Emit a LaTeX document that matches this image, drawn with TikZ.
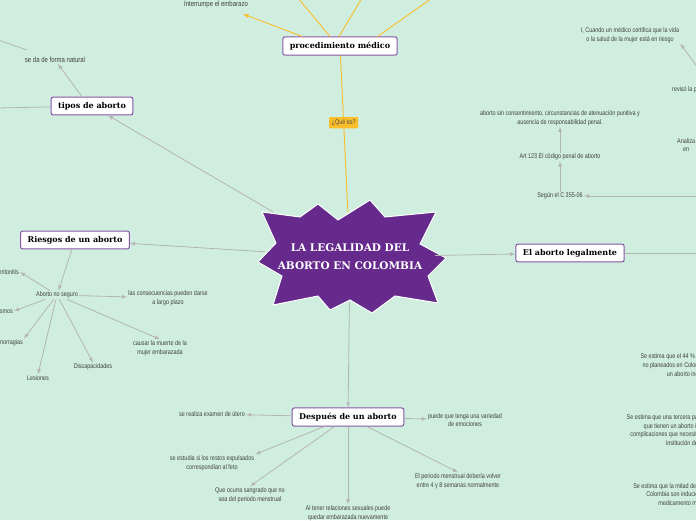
\documentclass[tikz,border=0pt]{standalone}
\usepackage{fontspec}
\setmainfont{Liberation Sans}
\newfontfamily\cond[FakeStretch=0.8]{Liberation Sans}
\newfontfamily\heavy{DejaVu Serif}
\usetikzlibrary{positioning}
\definecolor{bgmint}{HTML}{D0EEE0}
\definecolor{starpurple}{HTML}{652A8C}
\definecolor{linegray}{HTML}{B4B4B4}
\definecolor{yel}{HTML}{F9BE2A}

\tikzset{
  topic/.style={draw=starpurple!80, line width=1pt, fill=white, rounded corners=2pt,
      inner xsep=7pt, inner ysep=5pt, font=\heavy\bfseries\fontsize{8}{10}\selectfont},
  note/.style={align=center, text=black!75, font=\cond\fontsize{6.8}{8.6}\selectfont, inner sep=1pt},
  link/.style={draw=linegray, line width=0.8pt, -latex},
  bare/.style={draw=linegray, line width=0.8pt},
  ylink/.style={draw=yel, line width=0.9pt}
}

\begin{document}
\begin{tikzpicture}[x=1pt, y=-1pt]
  \fill[bgmint] (0,0) rectangle (696,520);
  \useasboundingbox (0,0) rectangle (696,520);

  % central star
  \fill[starpurple, draw=white, line width=1pt]
    (262,212) -- (300,217) -- (318,204) -- (338,220) -- (370,200) -- (385,217)
    -- (436,212) -- (420,244) -- (446,258) -- (428,276) -- (438,303) -- (395,296)
    -- (372,313) -- (350,300) -- (330,310) -- (318,296) -- (273,305) -- (282,276)
    -- (258,262) -- (276,243) -- cycle;
  \node (c) at (350,257) [minimum width=170, minimum height=90, text=white, align=center,
      font=\heavy\bfseries\fontsize{10.5}{18}\selectfont] {LA LEGALIDAD DEL\\ ABORTO EN COLOMBIA};

  % procedimiento
  \node (proc) at (340,46) [topic] {procedimiento médico};
  \node (interr) at (216,5) [note, font=\cond\fontsize{7.5}{9}\selectfont] {Interrumpe el embarazo};
  \coordinate (u1) at (298,-2);
  \coordinate (u2) at (362,-2);
  \coordinate (u3) at (432,-2);
  \draw[ylink, -latex] (proc.north west) ++(20,0) -- (243,14);
  \draw[ylink] (proc.north) ++(-10,0) -- (u1);
  \draw[ylink] (proc.north) ++(-1,0) -- (u2);
  \draw[ylink] (proc.north east) ++(-20,0) -- (u3);
  \draw[ylink] (proc) -- (c) node[pos=0.43, fill=yel, rounded corners=1pt, inner sep=2.5pt,
      text=black!70, font=\cond\fontsize{6.8}{8}\selectfont] {¿Qué es?};

  % tipos de aborto
  \node (tipos) at (92,106) [topic] {tipos de aborto};
  \node (natural) at (55,60) [note, font=\cond\fontsize{7.5}{9}\selectfont] {se da de forma natural};
  \coordinate (tl) at (-2,108);
  \coordinate (ta) at (-2,40);
  \coordinate (tb) at (27,50);
  \draw[link] (c) -- (tipos);
  \draw[link] (tipos.north) ++(-10,0) -- (natural);
  \draw[bare] (tl) -- (tipos);
  \draw[bare] (ta) -- (tb);

  % riesgos
  \node (riesgos) at (75,240) [topic] {Riesgos de un aborto};
  \node (noseg) at (57,295) [note] {Aborto no seguro};
  \node (largo) at (168,298) [note] {las consecuencias pueden darse\\ a largo plazo};
  \node (muerte) at (160,348) [note] {causar la muerte de la\\ mujer embarazada};
  \node (discap) at (93,367) [note] {Discapacidades};
  \node (lesion) at (38,378) [note] {Lesiones};
  \node (hemo) at (24,343) [note, anchor=east] {Hemorragias};
  \node (infec) at (14,311) [note, anchor=east] {Traumatismos};
  \node (perit) at (20,272) [note, anchor=east] {Peritonitis};
  \draw[link] (c) -- (riesgos);
  \draw[link] (riesgos) -- (noseg);
  \draw[link] (noseg) -- (largo);
  \draw[link] (noseg) -- (muerte.north);
  \draw[link] (noseg) -- (discap.north);
  \draw[link] (noseg) -- (lesion.north);
  \draw[link] (noseg) -- (hemo.north east);
  \draw[link] (noseg) -- (infec.east);
  \draw[link] (noseg) -- (perit.east);

  % legalmente
  \node (legal) at (570,253) [topic] {El aborto legalmente};
  \node (segun) at (560,196) [note] {Según el C 355-06};
  \node (art) at (560,157) [note] {Art 123 El código penal de aborto};
  \node (sincons) at (560,118) [note] {aborto sin consentimiento, circunstancias de atenuación punitiva y\\ ausencia de responsabilidad penal.};
  \node (cuando) at (630,35) [note] {I, Cuando un médico certifica que la vida\\ o la salud de la mujer está en riesgo};
  \node (revis) at (671,90) [note, anchor=west] {revisó la práctica};
  \node (analiza) at (676,145) [note, anchor=west, align=left] {Analiza la\\ \hspace*{6pt}en};
  \coordinate (lr) at (698,253);
  \coordinate (sr) at (698,196);
  \coordinate (cr) at (698,68);
  \draw[link] (c) -- (legal);
  \draw[bare] (legal) -- (lr);
  \draw[link] (sr) -- (segun);
  \draw[link] (segun) -- (art);
  \draw[link] (art) -- (sincons);
  \draw[link] (cr) -- (cuando.south east);

  % estadisticas
  \node (est1) at (690,365) [note] {Se estima que el 44 \% de los embarazos\\ no planeados en Colombia terminan en\\ un aborto inducido.};
  \node (est2) at (690,430) [note] {Se estima que una tercera parte del total de mujeres\\ que tienen un aborto ilegal desarrollan\\ complicaciones que necesitan tratamiento en una\\ institución de salud.};
  \node (est3) at (690,495) [note] {Se estima que la mitad de todos los abortos en\\ Colombia son inducidos mediante el\\ medicamento misoprostol.};

  % despues
  \node (desp) at (348,417) [topic] {Después de un aborto};
  \node (examen) at (212,414) [note] {se realiza examen de útero};
  \node (restos) at (212,463) [note] {se estudia si los restos expulsados\\ correspondían al feto};
  \node (sangr) at (250,495) [note] {Que ocurra sangrado que no\\ sea del periodo menstrual};
  \node (relac) at (348,513) [note] {Al tener relaciones sexuales puede\\ quedar embarazada nuevamente};
  \node (emoc) at (465,420) [note] {puede que tenga una variedad\\ de emociones};
  \node (period) at (458,481) [note] {El periodo menstrual debería volver\\ entre 4 y 8 semanas normalmente};
  \draw[link] (c) -- (desp);
  \draw[link] (desp) -- (examen);
  \draw[link] (desp) -- (restos.north east);
  \draw[link] (desp) -- (sangr.north);
  \draw[link] (desp) -- (relac);
  \draw[link] (desp) -- (emoc);
  \draw[link] (desp) -- (period.north);
\end{tikzpicture}
\end{document}
